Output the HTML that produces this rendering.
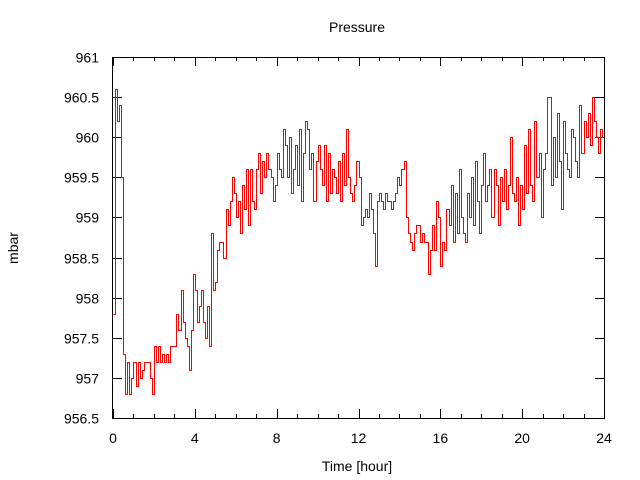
<!DOCTYPE html>
<html><head><meta charset="utf-8">
<style>
html,body{margin:0;padding:0;background:#fff;}
svg{display:block;font-family:"Liberation Sans",sans-serif;}
</style></head>
<body>
<svg id="chart" width="640" height="480" viewBox="0 0 640 480" xmlns="http://www.w3.org/2000/svg">
<rect x="0" y="0" width="640" height="480" fill="#fff"/>
<text x="357" y="32" font-size="14" text-anchor="middle" fill="#000">Pressure</text>
<text x="357" y="471" font-size="14" text-anchor="middle" fill="#000">Time [hour]</text>
<text x="18" y="248" font-size="14" text-anchor="middle" fill="#000" transform="rotate(-90 18 248)">mbar</text>
<g id="ticks"></g>
<g id="labels"></g>
<polyline id="series" fill="none" stroke="#ff0000" stroke-width="1" shape-rendering="crispEdges"/>
<rect x="112.5" y="57.5" width="492" height="361" fill="none" stroke="#000" stroke-width="1" shape-rendering="crispEdges"/>
</svg>
<script>
const xTicks = [0,4,8,12,16,20,24];
const yTicks = [956.5,957,957.5,958,958.5,959,959.5,960,960.5,961];
const yTickLabels = ["956.5","957","957.5","958","958.5","959","959.5","960","960.5","961"];
const timeStep = 0.1;
const pressure = [
957.8,960.6,960.2,960.4,959.5,957.3,956.8,957.2,956.8,957.0,
957.2,956.9,957.2,957.0,957.1,957.2,957.2,957.2,957.0,956.8,
957.4,957.2,957.4,957.2,957.3,957.2,957.3,957.2,957.4,957.4,
957.4,957.8,957.6,958.1,957.7,957.5,957.4,957.1,957.6,958.3,
958.1,957.7,957.9,958.1,957.7,957.5,957.9,957.4,958.8,958.1,
958.2,958.6,958.7,958.7,958.5,959.1,958.9,959.2,959.5,959.3,
959.0,959.2,958.8,959.4,959.1,959.6,958.9,959.6,959.2,959.1,
959.6,959.8,959.3,959.7,959.5,959.8,959.6,959.5,959.2,959.4,
959.8,959.6,959.5,960.1,959.9,959.5,960.0,959.3,959.6,959.9,
959.4,960.1,959.2,959.8,960.2,960.1,959.6,959.8,959.2,959.7,
959.9,959.6,959.4,959.9,959.2,959.8,959.3,959.6,959.5,959.3,
959.7,959.2,959.8,959.4,960.1,959.5,959.3,959.2,959.4,959.7,
959.5,958.9,959.0,959.1,959.0,959.3,959.1,958.8,958.4,959.2,
959.3,959.2,959.1,959.3,959.2,959.2,959.1,959.2,959.3,959.5,
959.4,959.6,959.7,959.0,958.8,958.7,958.6,958.8,958.9,958.9,
958.7,958.8,958.7,958.7,958.3,958.6,958.9,958.6,959.2,959.0,
958.4,958.7,958.6,959.1,958.9,959.4,958.7,959.3,958.8,959.6,
959.0,958.8,958.7,959.3,959.0,959.5,958.9,959.7,959.2,958.8,
959.4,959.8,959.2,959.4,959.6,959.0,959.6,959.4,958.9,959.5,
959.2,959.6,959.1,959.4,960.0,959.3,959.2,959.5,958.9,959.4,
959.1,959.9,959.3,960.1,959.4,959.2,960.2,959.5,959.8,959.0,
959.6,959.8,960.5,960.5,959.4,960.0,959.5,960.3,959.7,959.1,
960.2,959.8,959.6,959.5,960.1,960.0,959.7,959.5,960.4,959.8,
960.2,960.0,960.3,959.9,960.5,960.2,960.0,959.8,960.1,960.0,
960.3
];
const X0=113, X1=604, Y0=418, Y1=57, XMIN=0, XMAX=24, YMIN=956.5, YMAX=961;
function sx(v){return X0+(v-XMIN)/(XMAX-XMIN)*(X1-X0);}
function sy(v){return Y0-(v-YMIN)/(YMAX-YMIN)*(Y0-Y1);}
const NS="http://www.w3.org/2000/svg";
const tg=document.getElementById('ticks'), lg=document.getElementById('labels');
function line(x1,y1,x2,y2){const l=document.createElementNS(NS,'line');
l.setAttribute('x1',x1);l.setAttribute('y1',y1);l.setAttribute('x2',x2);l.setAttribute('y2',y2);
l.setAttribute('stroke','#000');l.setAttribute('stroke-width','1');l.setAttribute('shape-rendering','crispEdges');


tg.appendChild(l);}
for(let h=0;h<=24;h++){const x=Math.round(sx(h))+0.5;const len=(h%4===0)?9:4;
line(x,418,x,418-len);line(x,57,x,57+len);}
xTicks.forEach(function(t){const x=sx(t);const tx=document.createElementNS(NS,'text');
tx.setAttribute('x',x);tx.setAttribute('y',443);tx.setAttribute('font-size','14');tx.setAttribute('text-anchor','middle');
tx.textContent=String(t);


lg.appendChild(tx);});
yTicks.forEach(function(t,i){const y=Math.round(sy(t))+0.5;line(113,y,122,y);line(604,y,595,y);
const tx=document.createElementNS(NS,'text');
tx.setAttribute('x',99);tx.setAttribute('y',y+5);tx.setAttribute('font-size','14');tx.setAttribute('text-anchor','end');
tx.textContent=yTickLabels[i];


lg.appendChild(tx);});
const pts=[];
for(let i=0;i<pressure.length;i++){
  const x=Math.round(sx(i*timeStep))+0.5, y=Math.round(sy(pressure[i]))+0.5;
  if(i>0){pts.push(x+','+(Math.round(sy(pressure[i-1]))+0.5));}
  pts.push(x+','+y);
}
document.getElementById('series').setAttribute('points',pts.join(' '));
</script>
</body></html>
